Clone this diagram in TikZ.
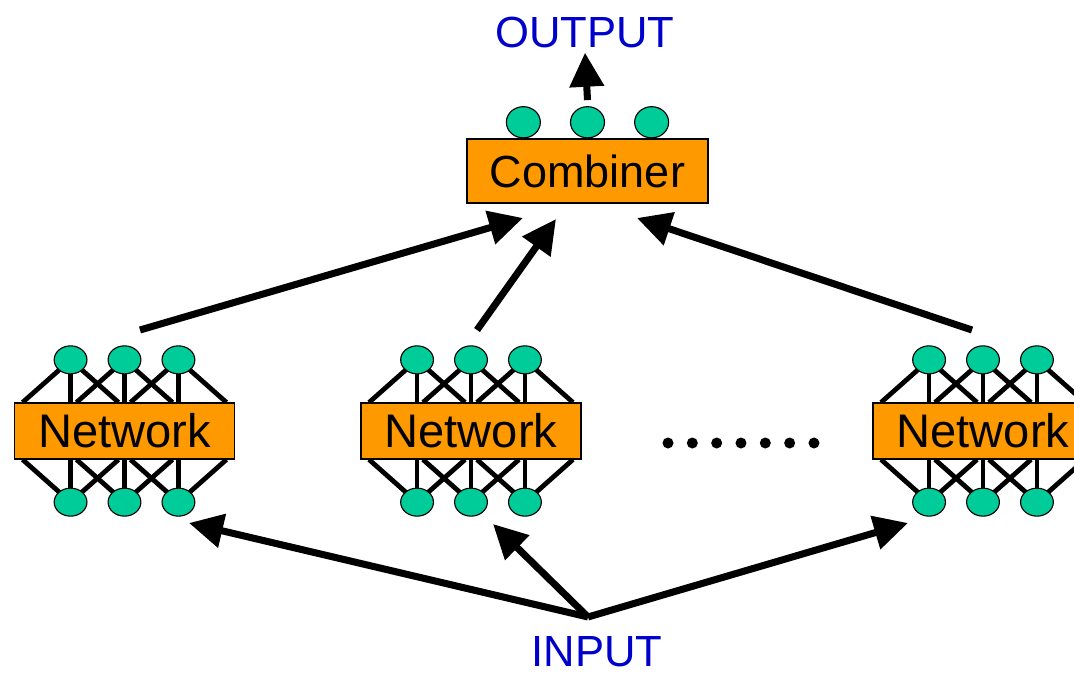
\documentclass[tikz,border=0pt]{standalone}
\usepackage{fontspec}
\setmainfont{Liberation Sans}
\usepackage{tikz}
\usetikzlibrary{%
  positioning, calc, arrows.meta, shapes.geometric, backgrounds
}
\usepackage{xcolor}
\definecolor{nnOrange}{HTML}{FF9900}
\definecolor{nnGreen}{HTML}{00CC99}
\definecolor{nnBlue}{HTML}{0000CC}
\tikzstyle{unit} = [%
  ellipse,
  draw=black,
  line width=0.8pt,
  fill=nnGreen,
  minimum width=0.82cm,
  minimum height=0.7cm,
  inner sep=0pt
]
\tikzstyle{block} = [%
  rectangle,
  draw=black,
  line width=0.8pt,
  fill=nnOrange,
  minimum width=5.5cm,
  minimum height=1.4cm,
  inner sep=0pt,
  font=\fontsize{32}{36}\selectfont
]

\begin{document}
\begin{tikzpicture}[%
  x=0.025cm, y=-0.025cm,
  flow/.style={%
    -{Triangle[length=0.85cm,width=0.83cm]},
    line width=5pt
  },
  link/.style={line width=3.4pt},
  caption/.style={%
    text=nnBlue,
    inner sep=0pt,
    font=\fontsize{31}{36}\selectfont
  }
]
  \useasboundingbox (0,0) rectangle (1074,677);
  \clip (0,0) rectangle (1074,677);

  % Member networks
  \foreach \n/\x in {1/124.5, 2/471, 3/983} {
    \node[block,font=\fontsize{33.5}{38}\selectfont] (net\n) at (\x,431) {Network};
    \node[unit,above=0.7cm of net\n] (t\n2) {};
    \node[unit,left=0.5cm of t\n2] (t\n1) {};
    \node[unit,right=0.5cm of t\n2] (t\n3) {};
    \node[unit,below=0.7cm of net\n] (b\n2) {};
    \node[unit,left=0.5cm of b\n2] (b\n1) {};
    \node[unit,right=0.5cm of b\n2] (b\n3) {};
    % Fan-in / fan-out links
    \begin{scope}[on background layer]
      \foreach \u in {1,2,3} {
        \foreach \d in {-48,0,48} {
          \draw[link] (t\n\u.center) -- ($(t\n\u |- net\n.north)+(\d,0)$);
          \draw[link] (b\n\u.center) -- ($(b\n\u |- net\n.south)+(\d,0)$);
        }
      }
    \end{scope}
  }

  % More networks
  \foreach \k in {0,...,6}
    \fill (668+24.33*\k,443) circle[radius=0.1375cm];

  % Combiner
  \node[block,minimum width=6.025cm,minimum height=1.6cm] (comb) at (587.5,171) {Combiner};
  \node[unit,minimum width=0.85cm,minimum height=0.78cm,above=0pt of comb] (c2) {};
  \node[unit,minimum width=0.85cm,minimum height=0.78cm,left=0.725cm of c2] (c1) {};
  \node[unit,minimum width=0.85cm,minimum height=0.78cm,right=0.725cm of c2] (c3) {};

  % Labels
  \node[caption] (out) at (585,32) {OUTPUT};
  \node[caption] (in) at (597,652) {INPUT};

  % Arrow ends
  \coordinate (src) at (588,617);
  \coordinate (f1) at (189,523);
  \coordinate (f2) at (493,524);
  \coordinate (f3) at (908,523);
  \coordinate (s1) at (140,330);
  \coordinate (s2) at (477,330);
  \coordinate (s3) at (972,330);
  \coordinate (e1) at (523,218);
  \coordinate (e2) at (556,219);
  \coordinate (e3) at (637,218);

  % Input to networks
  \draw[flow] (src) -- (f1);
  \draw[flow] (src) -- (f2);
  \draw[flow] (src) -- (f3);

  % Networks to combiner
  \draw[flow] (s1) -- (e1);
  \draw[flow] (s2) -- (e2);
  \draw[flow] (s3) -- (e3);

  % Combiner to output
  \draw[flow] ($(c2.north)+(0,-6)$) -- ($(out.south)+(0,5)$);

\end{tikzpicture}
\end{document}
